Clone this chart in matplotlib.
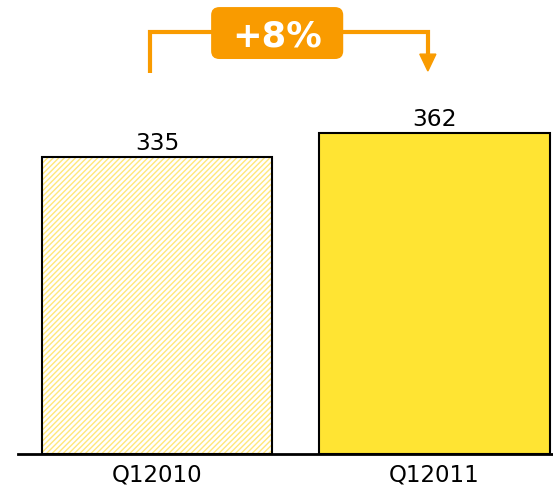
import matplotlib.pyplot as plt
import matplotlib.patches as mpatches
from matplotlib.patches import FancyBboxPatch

categories = ["Q12010", "Q12011"]
values = [335, 362]

orange = "#F99B00"
yellow = "#FFE433"
hatch_yellow = "#FFE77A"

W, H, DPI = 553, 487, 100
plt.rcParams["hatch.linewidth"] = 1.0
fig = plt.figure(figsize=(W / DPI, H / DPI), dpi=DPI)

# axes: baseline at 454 px, left end of axis line at 18 px
ax = fig.add_axes([18 / W, 33 / H, 1 - 18 / W, 454 / H])
px_per_unit = 0.8866
ax.set_ylim(0, 454 / px_per_unit)
ax.set_xlim(-0.501, 1.427)

x = list(range(len(categories)))
bar_w = 0.829
ax.bar(x[0], values[0], width=bar_w, facecolor="white", edgecolor=hatch_yellow,
       hatch="//////", linewidth=0)
ax.bar(x[0], values[0], width=bar_w, facecolor="none", edgecolor="black", linewidth=1.5)
ax.bar(x[1], values[1], width=bar_w, facecolor=yellow, edgecolor="black", linewidth=1.5)

for xi, v in zip(x, values):
    ax.text(xi, v + 7 / px_per_unit, str(v), ha="center", va="baseline",
            fontsize=16.8, color="black")

for s in ["top", "right", "left"]:
    ax.spines[s].set_visible(False)
ax.spines["bottom"].set_linewidth(2)
ax.set_yticks([])
ax.set_xticks(x)
ax.set_xticklabels(categories, fontsize=16.5)
ax.tick_params(axis="x", length=0, pad=7)

# growth bracket above the bars
growth = (values[1] / values[0] - 1) * 100
top = max(values)
y_line = top + 114
x_l, x_r = x[0] - 0.025, x[1] - 0.024
ax.plot([x_l, x_l, x_r, x_r], [top + 68, y_line, y_line, top + 89],
        color=orange, lw=3, solid_capstyle="butt", solid_joinstyle="miter", clip_on=False)
arrow = mpatches.Polygon([[x_r - 0.029, top + 89], [x_r + 0.029, top + 89], [x_r, top + 70]],
                         closed=True, color=orange, clip_on=False)
ax.add_patch(arrow)

bx0, bx1 = 0.195, 0.671
by0, bh = top + 83.5, 58.6
box = FancyBboxPatch((bx0, by0), bx1 - bx0, bh,
                     boxstyle="round,pad=0,rounding_size=0.03",
                     mutation_aspect=300,
                     facecolor=orange, edgecolor="none", clip_on=False)
ax.add_patch(box)
ax.text((bx0 + bx1) / 2, by0 + bh / 2, f"+{growth:.0f}%", ha="center", va="center_baseline",
        fontsize=25.5, fontweight="bold", color="white")

fig.savefig("out.png", dpi=DPI)
